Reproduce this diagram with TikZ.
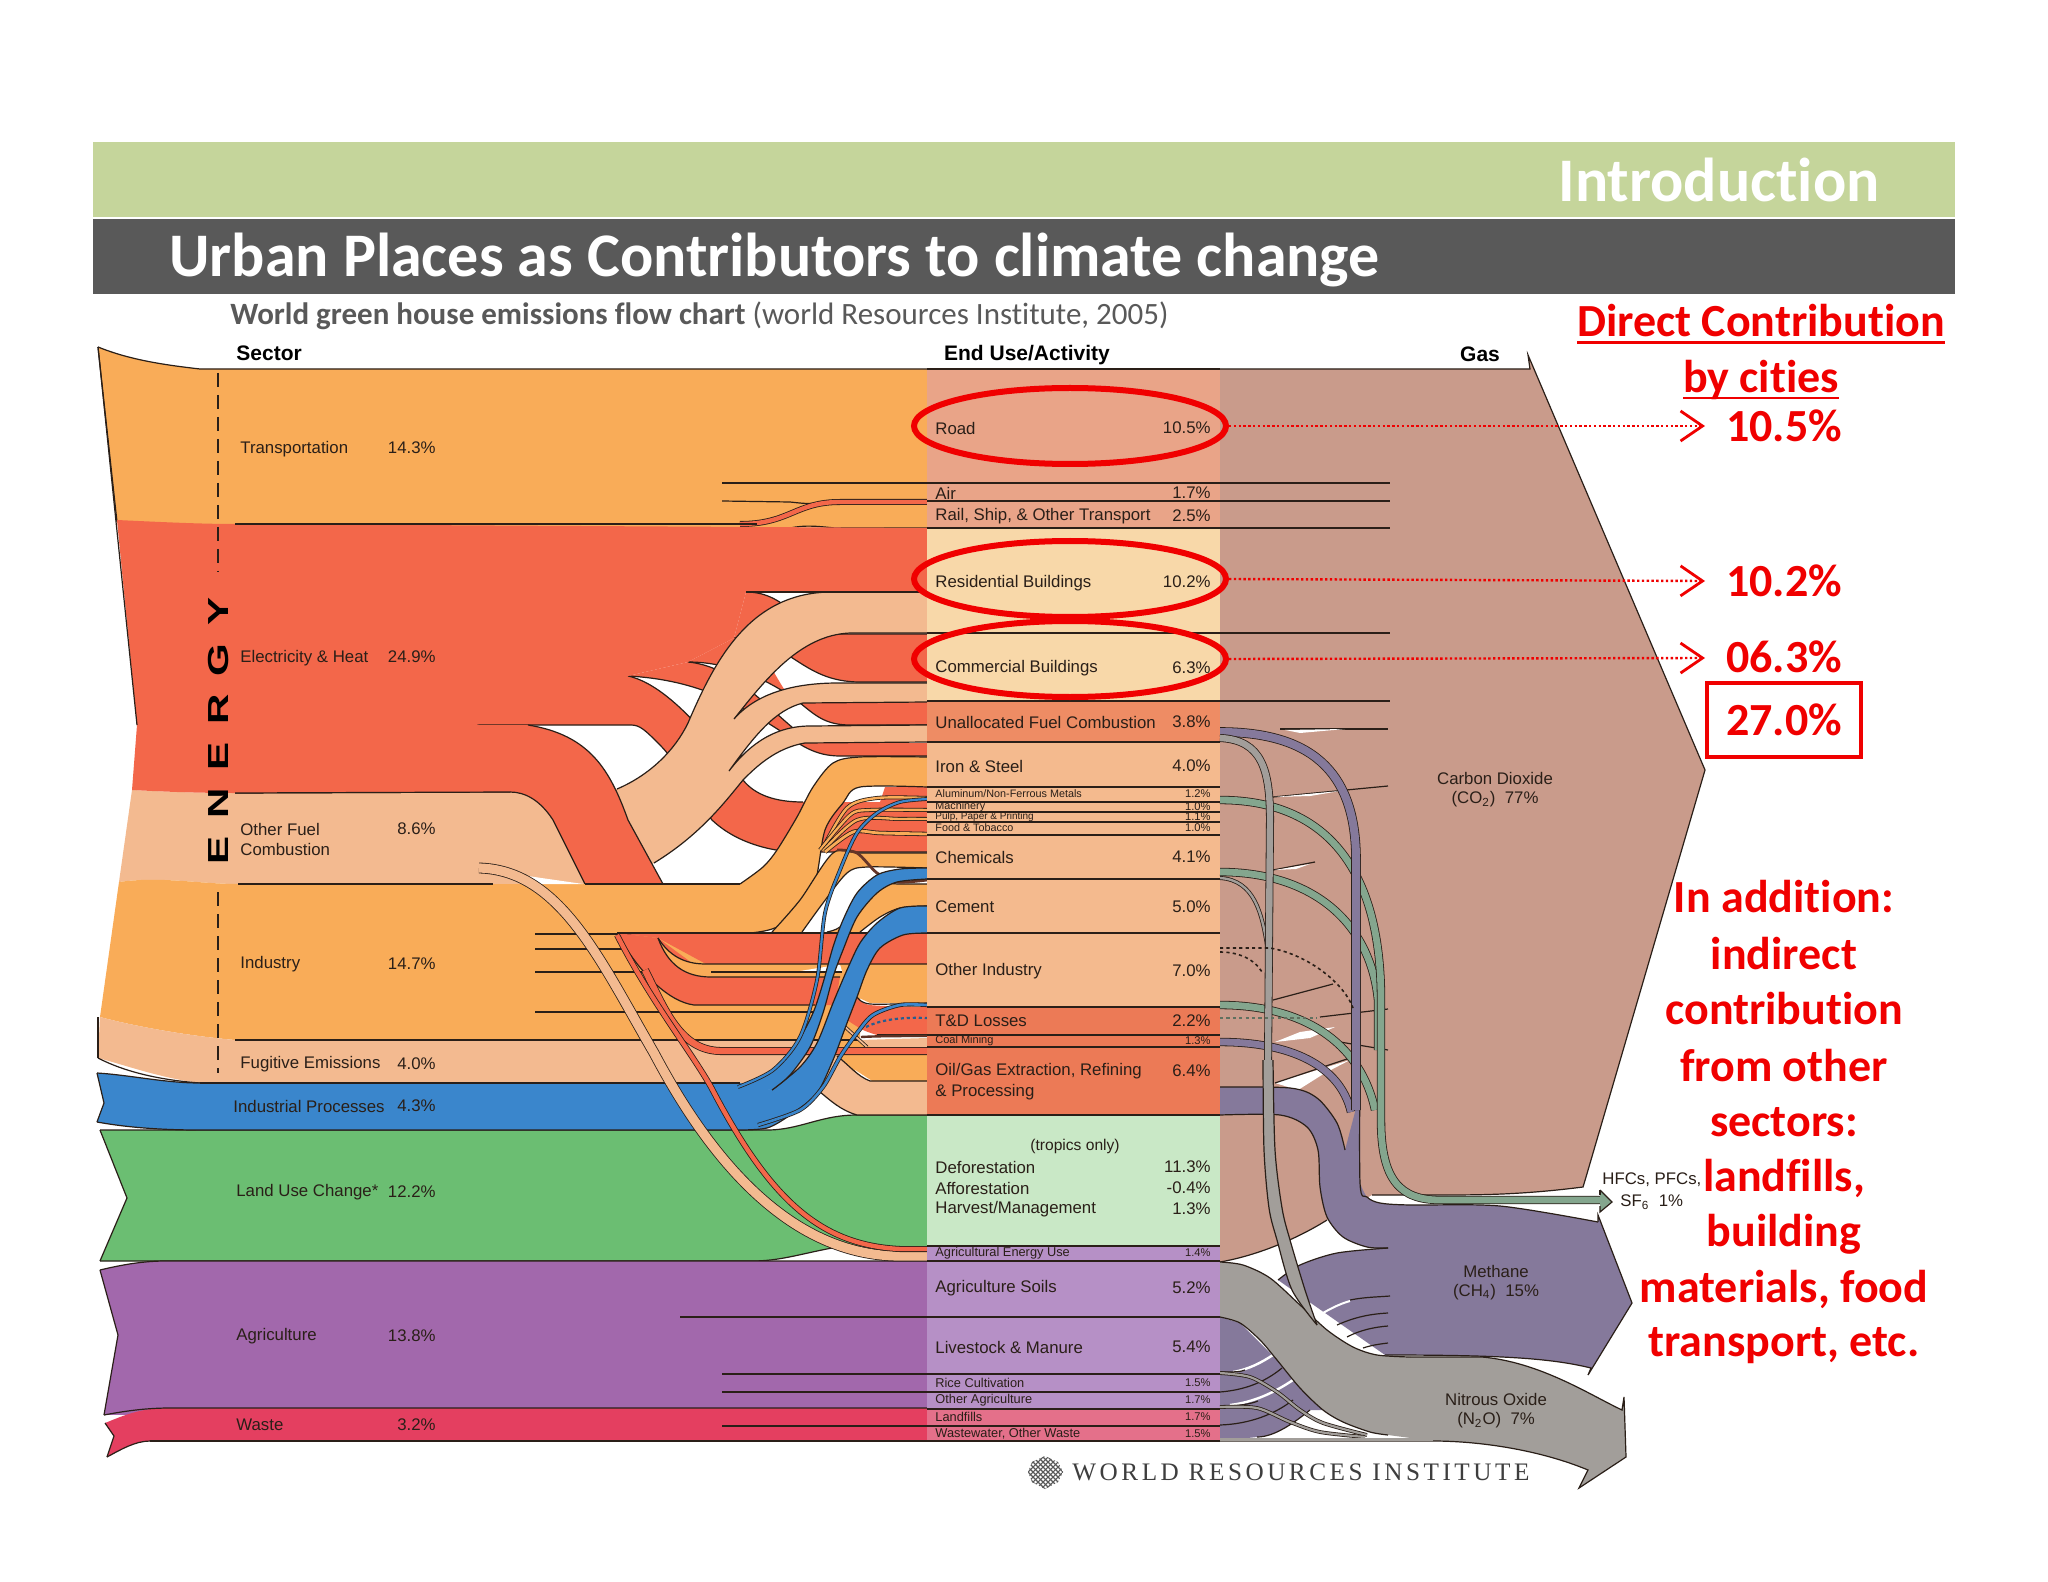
\documentclass[tikz,border=0pt]{standalone}
\usepackage{fontspec}
\setmainfont{Liberation Sans}
\newfontfamily\carl[RawFeature=-liga]{Carlito}
\newfontfamily\wrifont[LetterSpace=14]{Liberation Serif}
\newfontfamily\enfont[LetterSpace=62,FakeStretch=1.45]{Liberation Sans}
\usetikzlibrary{arrows.meta,shapes.geometric}
\definecolor{orng}{HTML}{F9AC58}
\definecolor{redo}{HTML}{F3674A}
\definecolor{pch}{HTML}{F3BA90}
\definecolor{blu}{HTML}{3A86CC}
\definecolor{grn}{HTML}{6BBE72}
\definecolor{pur}{HTML}{A268AC}
\definecolor{crm}{HTML}{E43F60}
\definecolor{brn}{HTML}{C99B8B}
\definecolor{met}{HTML}{85799B}
\definecolor{nox}{HTML}{A29E9A}
\definecolor{hfc}{HTML}{84A68E}
\definecolor{rroad}{HTML}{E9A488}
\definecolor{rres}{HTML}{F8D8A9}
\definecolor{runa}{HTML}{EE8C64}
\definecolor{rind}{HTML}{F4BA8E}
\definecolor{rtd}{HTML}{EC7A56}
\definecolor{rgrn}{HTML}{C9E8C6}
\definecolor{rpur}{HTML}{B690C6}
\definecolor{rwst}{HTML}{E4708A}
\definecolor{ink}{HTML}{2A1F18}
\definecolor{hdgreen}{HTML}{C5D59B}
\definecolor{hddark}{HTML}{595959}
\definecolor{rred}{HTML}{F00000}
\tikzset{
 ln/.style={draw=ink,line width=.6pt},
 dbl/.style n args={2}{draw=ink,line width=.4pt,double=#1,double distance=#2},
 rdot/.style={draw=rred,line width=1.2pt,dash pattern=on 1.2pt off 1.2pt,-{Straight Barb[length=11pt,width=15pt,line width=1.4pt]}},
 ring/.style={draw=rred,line width=3pt,ellipse,inner sep=0pt,minimum width=156pt,minimum height=38pt},
 lb/.style={anchor=west,inner sep=0pt,text=ink,font=\fontsize{8.4}{10}\selectfont},
 pc/.style={anchor=east,inner sep=0pt,text=ink,font=\fontsize{8.4}{10}\selectfont},
 sm/.style={anchor=west,inner sep=0pt,text=ink,font=\fontsize{6.4}{8}\selectfont},
 sp/.style={anchor=east,inner sep=0pt,text=ink,font=\fontsize{5.6}{8}\selectfont},
 big/.style={inner sep=0pt,text=rred,font=\carl\bfseries\fontsize{23}{28}\selectfont},
 hd/.style={inner sep=0pt,text=black,font=\bfseries\fontsize{10.5}{12}\selectfont},
}
\newcommand{\smf}[3]{%
 \fill[#1] plot[smooth] coordinates {#2} -- plot[smooth] coordinates {#3} -- cycle;
 \draw[ln] plot[smooth] coordinates {#2};
 \draw[ln] plot[smooth] coordinates {#3};
}
\newcommand{\sln}[1]{\draw[ln] plot[smooth] coordinates {#1};}
\newcommand{\rowb}[3]{\fill[#1] (927,#2) rectangle (1220,#3);}
\newcommand{\hl}[3]{\draw[ln] (#1,#3) -- (#2,#3);}
\newcommand{\ulx}[1]{\setbox0\hbox{#1}\rlap{\rule[-3.4pt]{\wd0}{1.3pt}}\box0}
\begin{document}
\begin{tikzpicture}[x=0.5pt,y=-0.5pt]
\useasboundingbox (0,0) rectangle (2048,1582);
\fill[white] (0,0) rectangle (2048,1582);
% banners
\fill[hdgreen] (93,142) rectangle (1955,217);
\fill[hddark] (93,219) rectangle (1955,294);
\node[anchor=east,inner sep=0pt,text=white,font=\carl\bfseries\fontsize{31}{36}\selectfont] (intro) at (1880,180) {Introduction};
\node[anchor=west,inner sep=0pt,text=white,font=\carl\bfseries\fontsize{31}{36}\selectfont] (title) at (169,260) {Urban Places as Contributors to climate change};
\node[anchor=west,inner sep=0pt,text=hddark,font=\carl\fontsize{15.5}{18}\selectfont] (sub) at (230,316) {\textbf{World green house emissions flow chart} (world Resources Institute, 2005)};
% ---- base bands
\fill[grn] (100,1130) -- (767,1130) .. controls (800,1130) and (820,1115) .. (857,1115) -- (927,1115) -- (927,1246) -- (832,1248) .. controls (800,1254) and (780,1261) .. (752,1261) -- (100,1261) -- (127,1198) -- cycle;
\draw[ln] (100,1130) -- (767,1130) .. controls (800,1130) and (820,1115) .. (857,1115) -- (927,1115);
\draw[ln] (100,1261) -- (752,1261) .. controls (780,1261) and (800,1254) .. (832,1248);
\draw[ln] (100,1130) -- (127,1198) -- (100,1261);
\fill[pur] (100,1270) .. controls (125,1264) and (145,1261) .. (166,1261) -- (927,1261) -- (927,1408) -- (104,1415) -- (118,1335) -- cycle;
\draw[ln] (100,1270) .. controls (125,1264) and (145,1261) .. (166,1261) -- (927,1261);
\draw[ln] (100,1270) -- (118,1335) -- (104,1415);
\fill[crm] (105,1423) .. controls (125,1415) and (140,1408) .. (170,1408) -- (927,1408) -- (927,1441) -- (150,1441) .. controls (135,1441) and (120,1450) .. (107,1457) -- (114,1436) -- cycle;
\draw[ln] (104,1415) .. controls (130,1410) and (150,1408) .. (170,1408) -- (927,1408);
\draw[ln] (150,1441) -- (927,1441);
\draw[ln] (107,1457) .. controls (120,1450) and (135,1441) .. (150,1441);
\draw[ln] (105,1423) -- (114,1436) -- (107,1457);
\hl{680}{927}{1317}
\hl{722}{927}{1374}
\hl{722}{927}{1392}
\hl{722}{927}{1426}
% transport
\fill[orng] (98,347) .. controls (130,360) and (165,365) .. (200,369) -- (927,369) -- (927,528) -- (235,526) -- (117,522) -- cycle;
\draw[ln] (98,347) .. controls (130,360) and (165,365) .. (200,369) -- (927,369);
\draw[ln] (98,347) -- (117,522);
\hl{722}{927}{483}
\draw[ln] (722,501) -- (790,502) .. controls (800,503) and (812,505) .. (830,502);
\draw[ln] (722,528) -- (790,528) .. controls (805,525) and (815,526) .. (835,528) -- (927,528);
\draw[ln] (238,524) -- (740,524);
\draw[dbl={redo}{2.2pt}] (740,524) .. controls (790,524) and (795,502) .. (840,502) -- (927,502);
% red strands behind the peach
\fill[redo] (746,592) .. controls (790,592) and (800,634) .. (838,634) -- (927,634) -- (927,682) -- (860,682) .. controls (800,682) and (790,638) .. (734,638) -- cycle;
\draw[ln] (746,592) .. controls (790,592) and (800,634) .. (838,634) -- (927,634);
\draw[ln] (927,682) -- (860,682) .. controls (800,682) and (790,638) .. (734,638);
\fill[redo] (734,638) .. controls (770,640) and (780,702) .. (800,702) -- (927,702) -- (927,725) -- (850,725) .. controls (825,725) and (815,715) .. (800,703) .. controls (770,680) and (730,662) .. (688,662) -- cycle;
\draw[ln] (927,725) -- (850,725) .. controls (825,725) and (815,715) .. (800,703) .. controls (770,680) and (730,662) .. (688,662);
\fill[redo] (688,662) .. controls (730,666) and (760,700) .. (793,728) .. controls (800,735) and (805,743) .. (815,743) -- (927,743) -- (927,756) -- (840,756) .. controls (815,756) and (800,745) .. (782,732) .. controls (740,705) and (700,680) .. (628,676) -- cycle;
\draw[ln] (688,662) .. controls (730,666) and (760,700) .. (793,728);
\draw[ln] (927,756) -- (840,756) .. controls (815,756) and (800,745) .. (782,732) .. controls (740,705) and (700,680) .. (628,676);
\fill[redo] (500,676) -- (628,676) .. controls (670,685) and (715,745) .. (743,780) .. controls (755,795) and (775,802) .. (803,802) -- (880,802) -- (885,787) -- (927,787) -- (927,852) -- (800,852) .. controls (770,852) and (735,842) .. (712,820) .. controls (695,800) and (680,765) .. (660,745) .. controls (645,730) and (640,725) .. (631,725) -- (476,725) -- cycle;
\draw[ln] (628,676) .. controls (670,685) and (715,745) .. (743,780) .. controls (755,795) and (775,802) .. (803,802);
\draw[ln] (927,852) -- (800,852) .. controls (770,852) and (735,842) .. (712,820) .. controls (695,800) and (680,765) .. (660,745) .. controls (645,730) and (640,725) .. (631,725) -- (476,725);
% peach
\fill[pch] (132,790) .. controls (170,792) and (200,793) .. (235,793) -- (510,792) -- (617,789) .. controls (650,775) and (675,750) .. (688,723) .. controls (715,660) and (750,592) .. (832,592) -- (927,592) -- (927,633) -- (850,633) .. controls (800,635) and (765,680) .. (734,719) .. controls (755,695) and (790,683) .. (838,683) -- (927,683) -- (927,702) -- (803,703) .. controls (775,710) and (755,735) .. (729,771) .. controls (745,750) and (770,726) .. (810,726) -- (927,725) -- (927,742) -- (805,743) .. controls (775,748) and (755,768) .. (743,780) .. controls (725,802) and (700,835) .. (654,863) -- (620,884) -- (238,884) .. controls (200,884) and (160,876) .. (119,882) -- cycle;
\draw[ln] (235,793) -- (510,792);
\draw[ln] (617,789) .. controls (650,775) and (675,750) .. (688,723) .. controls (715,660) and (750,592) .. (832,592) -- (927,592);
\draw[ln] (927,633) -- (850,633) .. controls (800,635) and (765,680) .. (734,719) .. controls (755,695) and (790,683) .. (838,683) -- (927,683);
\draw[ln] (927,702) -- (803,703) .. controls (775,710) and (755,735) .. (729,771) .. controls (745,750) and (770,726) .. (810,726) -- (927,725);
\draw[ln] (927,742) -- (805,743) .. controls (775,748) and (755,768) .. (743,780) .. controls (725,802) and (700,835) .. (654,863);
% red main with diagonal
\fill[redo] (117,520) .. controls (160,522) and (200,524) .. (235,524) -- (927,528) -- (927,592) -- (746,592) -- (734,638) -- (688,662) -- (628,676) -- (476,725) -- (528,725) .. controls (590,735) and (610,770) .. (628,820) -- (663,884) -- (690,936) -- (617,936) -- (585,884) -- (553,820) .. controls (540,800) and (525,792) .. (510,792) -- (235,793) .. controls (200,793) and (170,792) .. (132,790) -- (137,725) -- cycle;
\draw[ln] (98,347) -- (137,725);
\draw[ln] (746,592) -- (927,592);
\draw[ln] (510,792) .. controls (525,792) and (540,800) .. (553,820) -- (585,884);
\draw[ln] (528,725) .. controls (590,735) and (610,770) .. (628,820) -- (663,884);
% orange
\fill[orng] (119,882) .. controls (160,876) and (200,884) .. (238,884) -- (740,884) -- (750,933) -- (860,934) -- (860,1040) -- (235,1040) .. controls (180,1035) and (130,1025) .. (100,1017) -- cycle;
\smf{orng}{(740,884)(763,867)(777,850)(797,817)(813,787)(833,763)(860,757)(927,757)}{(927,787)(860,787)(843,803)(825,830)(815,883)(797,910)(777,927)(750,933)(700,934)}
\fill[white] (500,872) -- (583,884) -- (540,884) -- cycle;
\draw[ln] (238,884) -- (493,884);
\draw[ln] (585,884) -- (740,884);
\hl{535}{700}{934}
\hl{535}{622}{949}
\hl{535}{645}{972}
\hl{535}{815}{1012}
\smf{orng}{(772,932)(800,900)(833,853)(860,853)(927,853)}{(927,868)(867,867)(847,873)(823,903)(802,932)}
\smf{orng}{(827,932)(840,927)(857,907)(877,885)(900,884)(927,884)}{(927,906)(900,908)(880,917)(860,932)}
% orange fan
\draw[dbl={orng}{1.2pt}] plot[smooth] coordinates {(822,850)(847,808)(877,798)(927,798)};
\draw[dbl={orng}{1.2pt}] plot[smooth] coordinates {(820,850)(850,815)(870,810)(927,810)};
\draw[dbl={orng}{1.2pt}] plot[smooth] coordinates {(823,851)(857,820)(900,819)(927,819)};
\draw[dbl={orng}{1.4pt}] plot[smooth] coordinates {(825,852)(853,832)(880,833)(927,834)};
\draw[draw=ink!70!redo,line width=1.4pt] plot[smooth] coordinates {(837,850)(857,853)(877,873)(897,882)(927,880)};
% red block
\fill[redo] (617,933) -- (927,933) -- (927,964) -- (706,964) -- (658,938) -- cycle;
\fill[redo] (617,933) -- (658,938) -- (711,977) -- (840,977) -- (835,1005) -- (694,1005) .. controls (670,1002) and (640,975) .. (617,933);
\draw[ln] (617,933) -- (927,933);
\draw[ln] (617,933) .. controls (640,975) and (670,1002) .. (694,1005) -- (815,1005);
\fill[orng] (658,938) .. controls (672,960) and (690,964) .. (706,964) -- (927,964) -- (927,1003) -- (870,1003) -- (857,997) -- (840,977) -- (711,977) .. controls (685,977) and (668,965) .. (658,938);
\fill[white] (800,971) -- (840,964.5) -- (842,971) -- cycle;
\draw[ln] (658,938) .. controls (672,960) and (690,964) .. (706,964) -- (927,964);
\draw[ln] (658,938) .. controls (668,965) and (685,977) .. (711,977) -- (840,977);
\hl{711}{842}{972}
\fill[redo] plot[smooth] coordinates {(857,997)(870,1005)(927,1007)} -- (927,1037) -- plot[smooth] coordinates {(877,1035)(863,1030)(847,1020)} -- cycle;
\sln{(857,997)(870,1004)(927,1003)}
\draw[ln] (877,1035) -- (927,1035);
% fugitive
\fill[pch] (100,1017) .. controls (130,1025) and (180,1035) .. (235,1040) -- (800,1040) -- (860,1040) -- (927,1038) -- (927,1115) -- (857,1115) .. controls (840,1110) and (830,1100) .. (820,1092) -- (800,1083) -- (200,1083) .. controls (160,1078) and (125,1065) .. (98,1058) -- cycle;
\fill[orng] (820,1040) -- (860,1040) -- (870,1047) -- (820,1047) -- cycle;
\draw[ln] (98,1017) -- (98,1058);
\draw[ln] (927,1115) -- (857,1115) .. controls (840,1110) and (830,1100) .. (820,1092);
\draw[ln] (98,1058) .. controls (125,1072) and (160,1080) .. (200,1083);
\fill[orng] (837,1054) -- (927,1054) -- (927,1081) -- (870,1081) .. controls (857,1076) and (850,1066) .. (837,1054);
\fill[white] (855,1070) -- (872,1081) -- (868,1080) .. controls (862,1078) and (858,1074) .. (855,1070);
\draw[ln] (837,1054) -- (927,1054);
\draw[ln] (837,1056) .. controls (850,1066) and (857,1076) .. (870,1081) -- (927,1081);
\draw[ln] (235,1040) -- (860,1040);
\draw[dbl={pch}{.9pt}] (843,1025) -- (867,1047);
\draw[dbl={redo}{3.2pt}] (645,970) .. controls (665,1010) and (680,1050) .. (720,1051) -- (927,1051);
% blue
\fill[blu] (97,1073) .. controls (130,1075) and (165,1083) .. (200,1083) -- (740,1083) -- (772,1090) -- (767,1128) -- (733,1130) -- (200,1130) .. controls (165,1130) and (130,1128) .. (97,1122) -- (104,1103) -- cycle;
\draw[ln] (200,1083) -- (740,1083);
\draw[ln] (97,1073) .. controls (130,1075) and (165,1083) .. (200,1083);
\draw[ln] (97,1122) .. controls (130,1128) and (165,1130) .. (200,1130) -- (733,1130);
\draw[ln] (97,1073) -- (104,1103) -- (97,1122);
\smf{blu}{(772,1090)(800,1067)(817,1043)(833,1003)(847,970)(860,943)(877,923)(900,908)(927,906)}{(927,933)(903,935)(880,948)(867,970)(857,997)(847,1023)(833,1060)(817,1093)(793,1113)(767,1128)(733,1130)}
\smf{blu}{(740,1087)(777,1067)(797,1043)(813,1013)(823,983)(833,947)(843,920)(857,893)(877,875)(900,869)(927,868)}{(927,879)(897,882)(877,893)(857,917)(843,950)(833,977)(823,1013)(810,1047)(790,1075)(772,1090)}
\draw[dbl={blu}{1.1pt}] plot[smooth] coordinates {(738,1087)(773,1070)(800,1037)(817,980)(825,913)(840,870)(857,833)(877,813)(900,802)(927,799)};
\draw[dbl={blu}{1.3pt}] plot[smooth] coordinates {(758,1125)(800,1110)(823,1087)(840,1057)(857,1033)(873,1015)(900,1005)(927,1005)};
\draw[blu!70!black,line width=1.1pt,dash pattern=on 1.6pt off 1.4pt] (866,1027) .. controls (880,1020) and (900,1017) .. (927,1018);
\draw[draw=ink!75!redo,line width=1.2pt] (861,1037) .. controls (880,1036) and (900,1036) .. (927,1036);
% thin long strands
\draw[dbl={pch}{4.6pt}] (479,868) .. controls (560,870) and (600,960) .. (654,1053) .. controls (700,1140) and (780,1256) .. (900,1256) -- (927,1256);
\draw[dbl={redo}{2.2pt}] (617,935) .. controls (650,1000) and (690,1050) .. (711,1087) .. controls (770,1200) and (820,1245) .. (900,1249) -- (927,1249);
% row columns
\rowb{rroad}{369}{528}
\rowb{rres}{528}{701}
\rowb{runa}{701}{742}
\rowb{rind}{742}{1007}
\rowb{rtd}{1007}{1115}
\rowb{rgrn}{1115}{1246}
\rowb{rpur}{1246}{1408}
\rowb{rwst}{1408}{1441}
% gas body
\fill[brn] (1220,369) -- (1530,369) -- (1528,355) -- (1705,770) -- (1586,1177) -- (1583,1187) .. controls (1520,1195) and (1480,1195) .. (1433,1195) -- (1372,1195) -- (1327,1220) .. controls (1300,1237) and (1260,1255) .. (1220,1262) -- cycle;
\draw[ln] (1220,369) -- (1530,369) -- (1528,355) -- (1705,770) -- (1586,1177) -- (1583,1187) .. controls (1520,1195) and (1480,1195) .. (1433,1195) -- (1372,1195);
\draw[ln] (1327,1220) .. controls (1300,1237) and (1260,1255) .. (1220,1262);
\draw[ln] (927,369) -- (1220,369);
% gas lines
\hl{927}{1390}{483}\hl{927}{1390}{501}\hl{927}{1390}{528}\hl{927}{1390}{633}\hl{927}{1390}{701}
\hl{1280}{1388}{729}
\fill[white] (1300,733) -- (1345,729) -- (1285,730) -- cycle;
\draw[ln] (1273,797) -- (1388,786);
\fill[white] (1275,797) -- (1310,796) -- (1340,791) -- cycle;
\draw[ln] (1273,870) -- (1315,862);
\fill[white] (1275,870) -- (1296,869) -- (1310,864) -- cycle;
\draw[ln] (1273,1000) -- (1333,984);
\draw[ln] (1320,1017) -- (1388,1009);
\draw[ln] (1340,1042) -- (1388,1050);
\fill[white] (1275,1042) -- (1310,1038) -- (1335,1027) -- (1300,1032) -- cycle;
\fill[white] (1275,1083) -- (1350,1060) -- (1325,1073) -- (1298,1090) -- cycle;
\draw[ln] (1275,1083) -- (1350,1058);
% methane
\fill[met] plot[smooth] coordinates {(1220,1087)(1290,1088)(1317,1098)(1337,1123)(1345,1150)} -- (1355,1112) -- (1360,1060) -- plot[smooth] coordinates {(1360,1183)(1367,1197)(1380,1203)(1410,1205)(1500,1206)(1598,1222)} -- (1598,1215) -- (1632,1303) -- (1588,1375) -- (1591,1368) .. controls (1550,1358) and (1500,1355) .. (1385,1355) -- (1278,1280) -- plot[smooth] coordinates {(1278,1280)(1300,1265)(1337,1253)(1388,1248)} -- plot[smooth] coordinates {(1388,1248)(1367,1247)(1343,1237)(1327,1217)(1320,1187)(1318,1150)(1307,1127)(1280,1115)(1220,1115)} -- cycle;
\sln{(1220,1087)(1290,1088)(1317,1098)(1337,1123)(1345,1150)}
\sln{(1360,1060)(1360,1183)(1367,1197)(1380,1203)(1410,1205)(1500,1206)(1598,1222)}
\draw[ln] (1598,1222) -- (1598,1215) -- (1632,1303) -- (1588,1375) -- (1591,1368) .. controls (1550,1358) and (1500,1355) .. (1385,1355);
\sln{(1278,1280)(1300,1265)(1337,1253)(1388,1248)}
\sln{(1388,1248)(1367,1247)(1343,1237)(1327,1217)(1320,1187)(1318,1150)(1307,1127)(1280,1115)(1220,1115)}
% lobes above N2O
\draw[ln] (1350,1300) .. controls (1365,1297) and (1378,1297) .. (1390,1296);
\draw[white,line width=1pt] (1323,1313) .. controls (1335,1306) and (1343,1303) .. (1350,1301);
\draw[ln] (1337,1325) .. controls (1355,1317) and (1370,1314) .. (1388,1313);
\draw[ln] (1347,1337) .. controls (1360,1330) and (1375,1327) .. (1388,1326);
\draw[ln] (1363,1348) .. controls (1372,1345) and (1380,1344) .. (1388,1343);
% lower methane lobes
\fill[met] (1220,1317) -- (1240,1323) -- (1277,1360) -- (1323,1410) -- (1310,1410) .. controls (1295,1422) and (1275,1437) .. (1257,1437) -- (1220,1441) -- cycle;
\draw[ln] (1310,1410) .. controls (1295,1422) and (1275,1437) .. (1257,1437);
\draw[ln] (1220,1392) .. controls (1245,1390) and (1265,1382) .. (1282,1368);
\draw[white,line width=1.2pt] (1233,1372) .. controls (1250,1369) and (1262,1362) .. (1273,1355);
\draw[ln] (1220,1372) .. controls (1235,1372) and (1240,1372) .. (1245,1370);
\draw[white,line width=1.2pt] (1230,1405) .. controls (1255,1402) and (1275,1392) .. (1293,1380);
\draw[ln] (1220,1406) .. controls (1240,1406) and (1250,1404) .. (1258,1401);
\draw[ln] (1220,1425) .. controls (1250,1424) and (1275,1414) .. (1293,1400);
% nitrous oxide
\fill[nox] plot[smooth] coordinates {(1220,1262)(1243,1265)(1270,1278)(1300,1305)(1327,1330)(1353,1347)(1377,1355)(1410,1357)} -- (1482,1357) .. controls (1540,1362) and (1590,1395) .. (1622,1410) -- (1624,1397) -- (1626,1457) -- (1579,1488) -- (1588,1470) .. controls (1540,1450) and (1480,1441) .. (1433,1441) -- (1388,1435) -- plot[smooth] coordinates {(1388,1435)(1370,1432)(1343,1422)(1323,1410)(1300,1388)(1277,1360)(1260,1340)(1240,1323)(1220,1317)} -- cycle;
\sln{(1220,1262)(1243,1265)(1270,1278)(1300,1305)(1327,1330)(1353,1347)(1377,1355)(1410,1357)}
\draw[ln] (1410,1357) -- (1482,1357) .. controls (1540,1362) and (1590,1395) .. (1622,1410) -- (1624,1397) -- (1626,1457) -- (1579,1488) -- (1588,1470) .. controls (1540,1450) and (1480,1441) .. (1433,1441) -- (1220,1441);
\sln{(1388,1435)(1370,1432)(1343,1422)(1323,1410)(1300,1388)(1277,1360)(1260,1340)(1240,1323)(1220,1317)}
\draw[dbl={nox}{1.1pt}] plot[smooth] coordinates {(1220,1373)(1250,1377)(1277,1392)(1300,1410)(1323,1423)(1367,1435)};
\draw[dbl={nox}{1.1pt}] plot[smooth] coordinates {(1220,1407)(1257,1408)(1290,1422)(1320,1432)(1365,1437)};
\fill[nox] (1220,1438) rectangle (1433,1441);
% strands right of column
\draw[dbl={hfc}{3.4pt}] (1220,1005) .. controls (1300,1005) and (1360,1040) .. (1375,1110);
\draw[dbl={hfc}{3.4pt}] (1220,872) .. controls (1310,872) and (1370,920) .. (1378,1000) -- (1378,1050);
\draw[dbl={hfc}{3.4pt}] (1220,800) .. controls (1310,800) and (1381,850) .. (1381,1000) -- (1381,1120) .. controls (1381,1180) and (1400,1200) .. (1440,1200) -- (1600,1200);
\fill[hfc] (1600,1190) -- (1612,1202) -- (1600,1212) -- cycle;
\draw[ln] (1600,1190) -- (1612,1202) -- (1600,1212) -- (1600,1206);
\draw[ln] (1600,1190) -- (1600,1195);
\draw[dbl={met}{3.4pt}] (1220,1042) .. controls (1290,1042) and (1340,1065) .. (1351,1112);
\draw[dbl={met}{4pt}] (1220,732) .. controls (1320,732) and (1356,780) .. (1356,860) -- (1356,1110);
\draw[dbl={nox}{1.2pt}] (1220,878) .. controls (1255,880) and (1262,915) .. (1267,945);
\draw[dbl={nox}{3.2pt}] (1220,738) .. controls (1262,740) and (1270,770) .. (1270,820) -- (1268,1060);
\fill[nox] plot[smooth] coordinates {(1263,1060)(1264,1150)(1269,1208)(1277,1240)(1292,1290)(1317,1325)} -- plot[smooth] coordinates {(1317,1325)(1305,1290)(1290,1240)(1282,1208)(1275,1150)(1273,1060)} -- cycle;
\sln{(1263,1060)(1264,1150)(1269,1208)(1277,1240)(1292,1290)(1317,1325)}
\sln{(1317,1325)(1305,1290)(1290,1240)(1282,1208)(1275,1150)(1273,1060)}
\draw[ink,line width=.8pt,dash pattern=on 1.6pt off 1.6pt] (1220,948) -- (1270,948) .. controls (1310,955) and (1345,985) .. (1353,1008);
\draw[ink,line width=.8pt,dash pattern=on 1.6pt off 1.6pt] (1220,952) .. controls (1240,952) and (1255,960) .. (1262,972);
\draw[hfc!60!ink,line width=.9pt,dash pattern=on 1.6pt off 1.6pt] (1220,1018) -- (1317,1018);
% row lines
\foreach \yy in {483,501,528,633,701,742,787,802,812,822,835,879,933,1007,1035,1047,1115,1246,1261,1317,1374,1392,1409,1426,1441}{\draw[ln] (927,\yy) -- (1220,\yy);}
\draw[ln] (235,793) -- (510,792);
\draw[ln] (235,524) -- (757,524);
% dashed line
\draw[ink,line width=.6pt,dash pattern=on 7pt off 4pt] (218,373) -- (218,572);
\draw[ink,line width=.6pt,dash pattern=on 7pt off 4pt] (218,892) -- (218,1073);
\node[rotate=90,inner sep=0pt,text=black,font=\enfont\bfseries\fontsize{14.5}{16}\selectfont] (energy) at (219,731) {ENERGY};
% headers
\node[hd,anchor=west] (hsec) at (236,353) {Sector};
\node[hd] (hend) at (1027,355) {End Use/Activity};
\node[hd] (hgas) at (1480,354) {Gas};
% sector labels
\node[lb] (s1) at (240,449) {Transportation};\node[pc] (p1) at (436,448) {14.3\%};
\node[lb] (s2) at (240,658) {Electricity \& Heat};\node[pc] (p2) at (436,657) {24.9\%};
\node[lb] (s3a) at (240,829) {Other Fuel};\node[lb] (s3b) at (240,849) {Combustion};\node[pc] (p3) at (436,829) {8.6\%};
\node[lb] (s4) at (240,964) {Industry};\node[pc] (p4) at (436,964) {14.7\%};
\node[lb] (s5) at (240,1064) {Fugitive Emissions};\node[pc] (p5) at (436,1064) {4.0\%};
\node[lb] (s6) at (233,1106) {Industrial Processes};\node[pc] (p6) at (436,1106) {4.3\%};
\node[lb] (s7) at (236,1192) {Land Use Change*};\node[pc] (p7) at (436,1192) {12.2\%};
\node[lb] (s8) at (236,1336) {Agriculture};\node[pc] (p8) at (436,1336) {13.8\%};
\node[lb] (s9) at (236,1425) {Waste};\node[pc] (p9) at (436,1425) {3.2\%};
% end-use labels
\node[lb] (e1) at (935,428) {Road};\node[pc] (q1) at (1211,428) {10.5\%};
\node[lb] (e2) at (935,493) {Air};\node[pc] (q2) at (1211,493) {1.7\%};
\node[lb] (e3) at (935,516) {Rail, Ship, \& Other Transport};\node[pc] (q3) at (1211,516) {2.5\%};
\node[lb] (e4) at (935,583) {Residential Buildings};\node[pc] (q4) at (1211,582) {10.2\%};
\node[lb] (e5) at (935,668) {Commercial Buildings};\node[pc] (q5) at (1211,668) {6.3\%};
\node[lb] (e6) at (935,722) {Unallocated Fuel Combustion};\node[pc] (q6) at (1211,722) {3.8\%};
\node[lb] (e7) at (935,766) {Iron \& Steel};\node[pc] (q7) at (1211,766) {4.0\%};
\node[sm,font=\fontsize{5.4}{7}\selectfont] (e8) at (935,794) {Aluminum/Non-Ferrous Metals};\node[sp] (q8) at (1211,794) {1.2\%};
\node[sm,font=\fontsize{5.4}{7}\selectfont] (e9) at (935,807) {Machinery};\node[sp] (q9) at (1211,807) {1.0\%};
\node[sm,font=\fontsize{5}{7}\selectfont] (e10) at (935,817) {Pulp, Paper \& Printing};\node[sp] (q10) at (1211,817) {1.1\%};
\node[sm,font=\fontsize{5.4}{7}\selectfont] (e11) at (935,828) {Food \& Tobacco};\node[sp] (q11) at (1211,828) {1.0\%};
\node[lb] (e12) at (935,857) {Chemicals};\node[pc] (q12) at (1211,857) {4.1\%};
\node[lb] (e13) at (935,907) {Cement};\node[pc] (q13) at (1211,907) {5.0\%};
\node[lb] (e14) at (935,971) {Other Industry};\node[pc] (q14) at (1211,971) {7.0\%};
\node[lb] (e15) at (935,1021) {T\&D Losses};\node[pc] (q15) at (1211,1021) {2.2\%};
\node[sm,font=\fontsize{5.5}{7}\selectfont] (e16) at (935,1041) {Coal Mining};\node[sp] (q16) at (1211,1041) {1.3\%};
\node[lb] (e17a) at (935,1071) {Oil/Gas Extraction, Refining};\node[lb] (e17b) at (935,1092) {\& Processing};\node[pc] (q17) at (1211,1071) {6.4\%};
\node[inner sep=0pt,text=ink,font=\fontsize{7.8}{10}\selectfont] (trop) at (1075,1146) {(tropics only)};
\node[lb] (e18) at (935,1167) {Deforestation};\node[pc] (q18) at (1211,1167) {11.3\%};
\node[lb] (e19) at (935,1188) {Afforestation};\node[pc] (q19) at (1211,1188) {-0.4\%};
\node[lb] (e20) at (935,1209) {Harvest/Management};\node[pc] (q20) at (1211,1209) {1.3\%};
\node[sm] (e21) at (935,1253) {Agricultural Energy Use};\node[sp] (q21) at (1211,1253) {1.4\%};
\node[lb] (e22) at (935,1288) {Agriculture Soils};\node[pc] (q22) at (1211,1288) {5.2\%};
\node[lb] (e23) at (935,1347) {Livestock \& Manure};\node[pc] (q23) at (1211,1347) {5.4\%};
\node[sm] (e24) at (935,1383) {Rice Cultivation};\node[sp] (q24) at (1211,1383) {1.5\%};
\node[sm] (e25) at (935,1400) {Other Agriculture};\node[sp] (q25) at (1211,1400) {1.7\%};
\node[sm] (e26) at (935,1417) {Landfills};\node[sp] (q26) at (1211,1417) {1.7\%};
\node[sm] (e27) at (935,1434) {Wastewater, Other Waste};\node[sp] (q27) at (1211,1434) {1.5\%};
% gas labels
\node[lb,anchor=center] (g1a) at (1495,778) {Carbon Dioxide};
\node[lb,anchor=center] (g1b) at (1495,799) {(CO\textsubscript{2})\ \ 77\%};
\node[lb,anchor=center] (g2a) at (1496,1271) {Methane};
\node[lb,anchor=center] (g2b) at (1496,1292) {(CH\textsubscript{4})\ \ 15\%};
\node[lb,anchor=center] (g3a) at (1496,1399) {Nitrous Oxide};
\node[lb,anchor=center] (g3b) at (1496,1420) {(N\textsubscript{2}O)\ \ 7\%};
\node[lb] (g4a) at (1602,1180) {HFCs, PFCs,};
\node[lb] (g4b) at (1620,1202) {SF\textsubscript{6}\ \ 1\%};
% WRI logo
\begin{scope}
\clip (1045,1456) -- (1058,1462) -- (1063,1472) -- (1058,1482) -- (1045,1489) -- (1032,1482) -- (1028,1472) -- (1032,1462) -- cycle;
\foreach \d in {-32,-27,...,32}{
 \draw[hddark,line width=.55pt] ({1045+\d-20},1452) -- ({1045+\d+20},1492);
 \draw[hddark,line width=.55pt] ({1045+\d+20},1452) -- ({1045+\d-20},1492);
}
\end{scope}
\node[anchor=west,inner sep=0pt,text=hddark!70!black,font=\wrifont\fontsize{12.6}{14}\selectfont] (wri) at (1072,1472) {WORLD RESOURCES INSTITUTE};
% red rings and arrows
\node[ring] (rroadn) at (1070,426) {};
\node[ring] (rresn) at (1070,579) {};
\node[ring] (rcomn) at (1070,659) {};
\coordinate (troad) at (1705,426);
\coordinate (tres) at (1705,581);
\coordinate (tcom) at (1705,658);
\draw[rdot] (rroadn.east) -- (troad);
\draw[rdot] (rresn.east) -- (tres);
\draw[rdot] (rcomn.east) -- (tcom);
\node[big] (dc1) at (1761,324) {\ulx{Direct Contribution}};
\node[big] (dc2) at (1761,380) {\ulx{by cities}};
\node[big] (v1) at (1784,426) {10.5\%};
\node[big] (v2) at (1784,581) {10.2\%};
\node[big] (v3) at (1784,657) {06.3\%};
\node[big] (v4) at (1784,720) {27.0\%};
\draw[rred,line width=1.8pt] (1707,683) rectangle (1861,757);
\node[big] (a1) at (1784,897) {In addition:};
\node[big] (a2) at (1784,954) {indirect};
\node[big] (a3) at (1784,1009) {contribution};
\node[big] (a4) at (1784,1066) {from other};
\node[big] (a5) at (1784,1122) {sectors:};
\node[big] (a6) at (1784,1178) {landfills,};
\node[big] (a7) at (1784,1234) {building};
\node[big] (a8) at (1784,1289) {materials, food};
\node[big] (a9) at (1784,1346) {transport, etc.};
\end{tikzpicture}
\end{document}
